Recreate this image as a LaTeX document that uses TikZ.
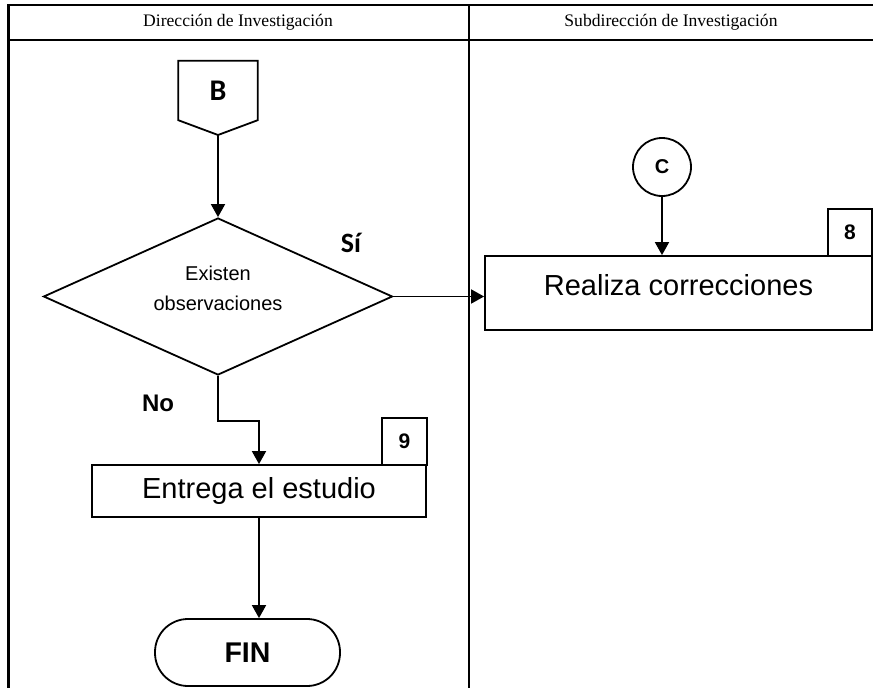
\documentclass[tikz,border=0pt]{standalone}
\usepackage{fontspec}
\setmainfont{Liberation Serif}
\setsansfont{Liberation Sans}
\newfontfamily\carlito{Carlito}
\usetikzlibrary{positioning,arrows.meta,shapes.geometric}

\begin{document}
\begin{tikzpicture}[x=1pt,y=-1pt,
  lane/.style={line width=2.8pt},
  box/.style={draw,line width=1.8pt,inner sep=0pt,font=\sffamily},
  num/.style={box,minimum width=45pt,minimum height=47pt,font=\sffamily\bfseries\fontsize{21}{23}\selectfont},
  flow/.style={-{Triangle[length=13pt,width=14pt]},line width=1.8pt}]
\useasboundingbox (0,0) rectangle (873,688);
% swimlanes
\draw[lane] (8.5,688) -- (8.5,5) -- (873,5) (7.25,40) -- (873,40) (469,5) -- (469,688);
\node (h1) at (238,22.5) {\fontsize{17.6}{20}\selectfont Dirección de Investigación};
\node (h2) at (671,22.5) {\fontsize{17.6}{20}\selectfont Subdirección de Investigación};
% left lane
\node[inner sep=0,minimum width=79pt,minimum height=59pt,font=\carlito\bfseries\fontsize{30}{32}\selectfont] (B) at (218,90.5) {B};
\coordinate (Btip) at (218,135);
\draw[line width=1.8pt] (B.south west) -- (B.north west) -- (B.north east) -- (B.south east) -- (Btip) -- cycle;
\node[box,diamond,shape aspect=2.2,minimum width=349pt,minimum height=157pt,align=center,font=\sffamily\fontsize{20}{30}\selectfont,text height=44pt,text depth=16pt] (dec) at (218,296.5) {Existen\\observaciones};
\node[font=\carlito\bfseries\fontsize{28}{30}\selectfont] (si) at (351,243) {Sí};
\node[font=\sffamily\bfseries\fontsize{24}{26}\selectfont] (no) at (158,403) {No};
\node[box,minimum width=334pt,minimum height=52pt,font=\sffamily\fontsize{29}{32}\selectfont] (ent) at (259,491) {Entrega el estudio};
\node[num] (n9) at (404.5,441.5) {9};
\node[box,rounded corners=33pt,minimum width=185pt,minimum height=67pt,font=\sffamily\bfseries\fontsize{28.5}{30}\selectfont] (fin) at (247.5,652.5) {FIN};
% right lane
\node[box,circle,minimum size=58pt,font=\sffamily\bfseries\fontsize{20}{22}\selectfont] (C) at (662,167) {C};
\node[box,minimum width=387pt,minimum height=74pt,font=\sffamily\fontsize{29}{32}\selectfont,text height=21pt,text depth=16pt] (real) at (678.5,293) {Realiza correcciones};
\node[num,minimum width=44pt] (n8) at (850,232.5) {8};
% connectors
\draw[flow] (Btip) -- (dec.north);
\draw[flow] (dec.east) -- (dec.east -| real.west);
\draw[flow] (C) -- (C |- real.north);
\draw[flow] (dec.south) -- ++(0,45) -| (ent.north);
\draw[flow] (ent.south) -- (ent.south |- fin.north);
\end{tikzpicture}
\end{document}
